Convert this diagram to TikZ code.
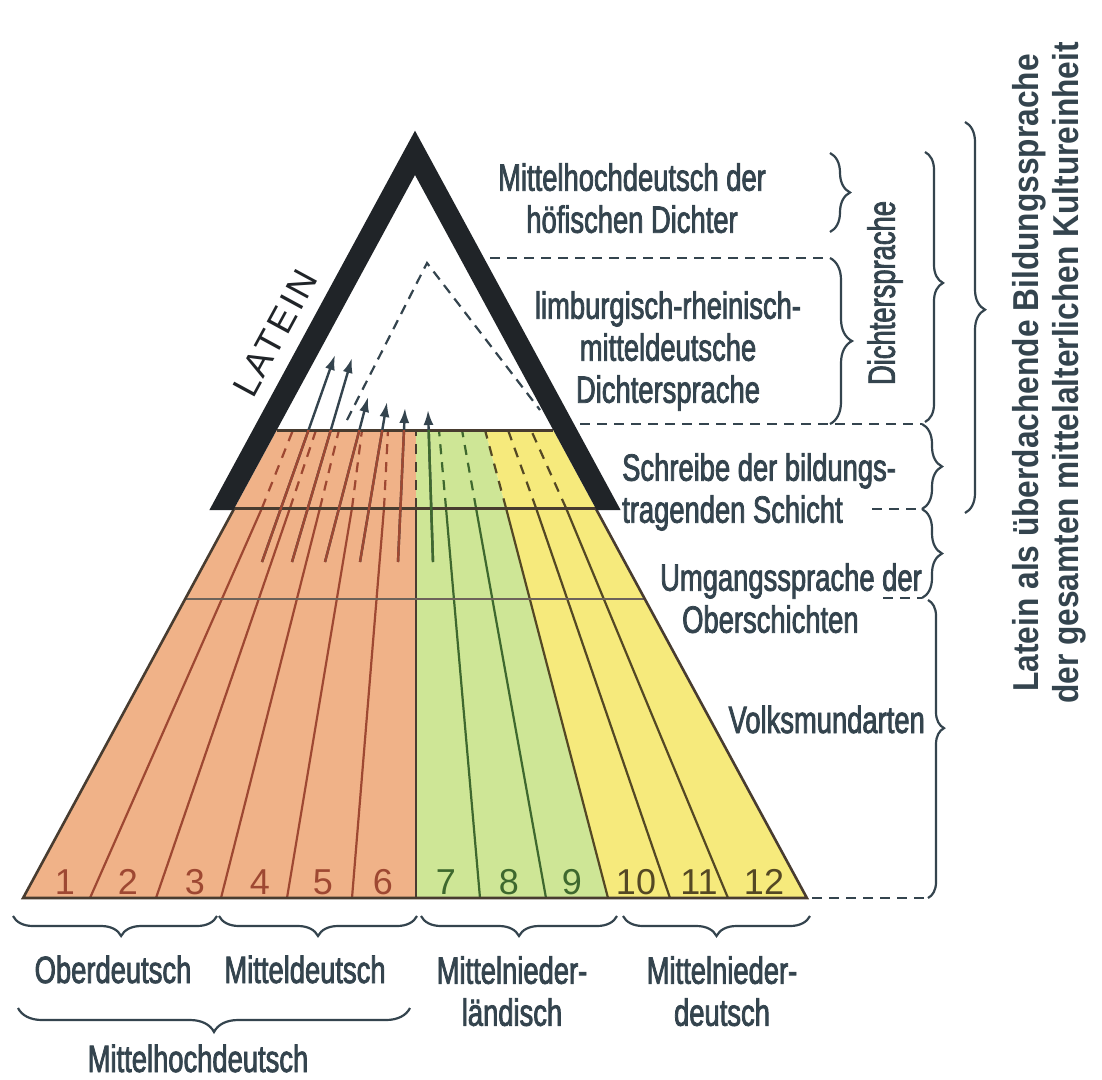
\documentclass[tikz,border=0pt]{standalone}
\usepackage{fontspec}
\setmainfont{Liberation Sans}[FakeStretch=0.72, FakeBold=2]
\newfontfamily\grassetto{Liberation Sans}[FakeStretch=0.88]
\newfontfamily\cifrefont{Liberation Sans}
\newfontfamily\lateinfont{Liberation Sans}[LetterSpace=8]
\usetikzlibrary{arrows.meta,decorations.pathreplacing}

\definecolor{inchiostro}{RGB}{52,68,78}
\definecolor{nero}{RGB}{32,36,40}
\definecolor{arancio}{RGB}{240,178,136}
\definecolor{verde}{RGB}{206,230,150}
\definecolor{giallo}{RGB}{246,234,124}
\definecolor{rossobruno}{RGB}{158,72,50}
\definecolor{verdescuro}{RGB}{62,104,46}
\definecolor{oliva}{RGB}{84,72,36}
\definecolor{bordo}{RGB}{72,60,48}

\tikzset{
  testo/.style={text=inchiostro, inner sep=0pt, font=\fontsize{38}{42}\selectfont},
  cifra/.style={inner sep=0pt, anchor=base, font=\cifrefont\fontsize{36}{36}\selectfont},
  graffa/.style={draw=inchiostro, line width=2.2pt, decorate, decoration={brace, amplitude=#1}},
  graffa/.default=20pt,
  tratto/.style={draw=inchiostro, line width=2.5pt, dash pattern=on 10pt off 7pt},
  divisione/.style={line width=2.2pt},
  freccia/.style={line width=2.4pt, -{Latex[length=15pt,width=10pt]}},
}

\begin{document}
\begin{tikzpicture}[x=1pt, y=-1pt]
\useasboundingbox (0,0) rectangle (1102,1079);
\fill[white] (0,0) rectangle (1102,1079);

% trapezio
\coordinate (tl) at (276.8,430);
\coordinate (tr) at (553.2,430);
\coordinate (bl) at (23.1,898);
\coordinate (br) at (806.9,898);
\coordinate (ml) at (234.5,508);
\coordinate (mr) at (595.5,508);
\coordinate (ct) at (416,430);
\coordinate (cm) at (416,508);
\coordinate (cb) at (416,898);

% campiture
\fill[arancio] (tl) -- (ct) -- (cb) -- (bl) -- cycle;
\fill[verde] (ct) -- (485,430) -- (506,508) -- (608,898) -- (cb) -- cycle;
\fill[giallo] (485,430) -- (tr) -- (br) -- (608,898) -- (506,508) -- cycle;

% linee dei dialetti
\foreach \b/\m/\t/\c in {90/262/293/rossobruno, 156/290/316/rossobruno,
  221/320/339/rossobruno, 287/352/362/rossobruno, 352/384/388/rossobruno,
  480/446/439/verdescuro, 546/476/462/verdescuro, 608/506/485/oliva,
  670/536/508/oliva, 728/566/531/oliva}
{
  \draw[divisione, \c] (\b,898) -- (\m,508);
  \draw[divisione, \c, dash pattern=on 10pt off 8pt] (\m,508) -- (\t,430);
}
\draw[divisione, bordo] (cb) -- (cm);
\draw[divisione, bordo, dash pattern=on 10pt off 8pt] (cm) -- (ct);

% orizzontali e bordi
\draw[line width=1.4pt, bordo!80] (185.2,599) -- (644.8,599);
\draw[line width=3pt, bordo] (tl) -- (tr);
\draw[line width=3pt, bordo] (212,508) -- (618,508);
\draw[line width=2.6pt, bordo] (ml) -- (bl) -- (br) -- (mr);

% frecce
\foreach \i/\xa/\xb/\yb/\c in {1/262/335/355/rossobruno, 2/292/352/358/rossobruno,
  3/325/368/397/rossobruno, 4/360/387/402/rossobruno, 5/398/405/408/rossobruno,
  6/433/428/410/verdescuro}
{
  \coordinate (coda\i) at (\xa,562);
  \coordinate (punta\i) at (\xb,\yb);
  \draw[freccia, inchiostro] (coda\i) -- (punta\i);
  \begin{scope}
    \clip (tl) -- (tr) -- (br) -- (bl) -- cycle;
    \draw[line width=2.4pt, \c] (coda\i) -- (punta\i);
  \end{scope}
}

% triangolo nero
\fill[nero] (209.4,510) -- (415,130.7) -- (620.6,510) -- (596.6,510)
  -- (415,175) -- (233.4,510) -- cycle;

% triangolo tratteggiato
\coordinate (dapice) at (427,263);
\coordinate (dsin) at (347,420);
\coordinate (ddes) at (540,410);
\draw[tratto, line width=2.2pt] (dsin) -- (dapice) -- (ddes);

\node[text=nero, rotate=61.5, inner sep=0pt,
  font=\lateinfont\fontsize{36}{36}\selectfont] (latein) at (275,333) {LATEIN};

% numeri
\foreach \x/\n/\c in {65/1/rossobruno, 128/2/rossobruno, 195/3/rossobruno,
  260/4/rossobruno, 323/5/rossobruno, 383/6/rossobruno, 446/7/verdescuro,
  509/8/verdescuro, 572/9/verdescuro, 636/10/oliva, 699/11/oliva, 764/12/oliva}
  \node[cifra, text=\c] (n\n) at (\x,894) {\n};

% etichette a destra
\node[testo, align=center, anchor=north] (hoefisch) at (632,163)
  {Mittelhochdeutsch der\\höfischen Dichter};
\node[testo, align=center, anchor=north] (limburg) at (668,291)
  {limburgisch-rheinisch-\\mitteldeutsche\\Dichtersprache};
\node[testo, align=left, anchor=north west] (schreibe) at (622,453)
  {Schreibe der bildungs-\\tragenden Schicht};
\node[testo, align=left, anchor=north west] (umgang) at (660,563)
  {Umgangssprache der\\\hspace*{22pt}Oberschichten};
\node[testo, anchor=base east] (volk) at (925,733) {Volksmundarten};
\node[testo, rotate=90] (dichter) at (885,293) {Dichtersprache};
\node[testo, rotate=90, align=center, font=\grassetto\bfseries\fontsize{36}{40}\selectfont]
  (bildung) at (1049,373)
  {Latein als überdachende Bildungssprache\\der gesamten mittelalterlichen Kultureinheit};

% etichette in basso
\node[testo, anchor=base] (ober) at (113,983) {Oberdeutsch};
\node[testo, anchor=base] (mittel) at (305,983) {Mitteldeutsch};
\node[testo, align=center, anchor=north] (nlaend) at (512,956) {Mittelnieder-\\ländisch};
\node[testo, align=center, anchor=north] (ndeutsch) at (722,956) {Mittelnieder-\\deutsch};
\node[testo, anchor=base] (mhd) at (198,1072) {Mittelhochdeutsch};

% tratteggi
\draw[tratto] (490,258) -- (830,258);
\draw[tratto] (580,424) -- (922,424);
\draw[tratto] (872,509) -- (922,509);
\draw[tratto] (883,598) -- (922,598);
\draw[tratto] (812,898) -- (928,898);

% graffe a destra
\draw[graffa] (830,153) -- (830,232);
\draw[graffa=22pt] (830,258) -- (830,424);
\draw[graffa=18pt, decoration={aspect=0.485}] (925,152) -- (925,422);
\draw[graffa, decoration={aspect=0.48}] (965,122) -- (965,513);
\draw[graffa] (922,424) -- (922,509);
\draw[graffa] (922,509) -- (922,598);
\draw[graffa=16pt, decoration={aspect=0.43}] (928,600) -- (928,898);

% graffe in basso
\draw[graffa, decoration={mirror, aspect=0.53}] (13,916) -- (217,916);
\draw[graffa, decoration={mirror}] (219,916) -- (417,916);
\draw[graffa, decoration={mirror}] (421,916) -- (617,916);
\draw[graffa, decoration={mirror}] (623,916) -- (810,916);
\draw[graffa=24pt, decoration={mirror}] (18,1008) -- (410,1008);
\end{tikzpicture}
\end{document}
